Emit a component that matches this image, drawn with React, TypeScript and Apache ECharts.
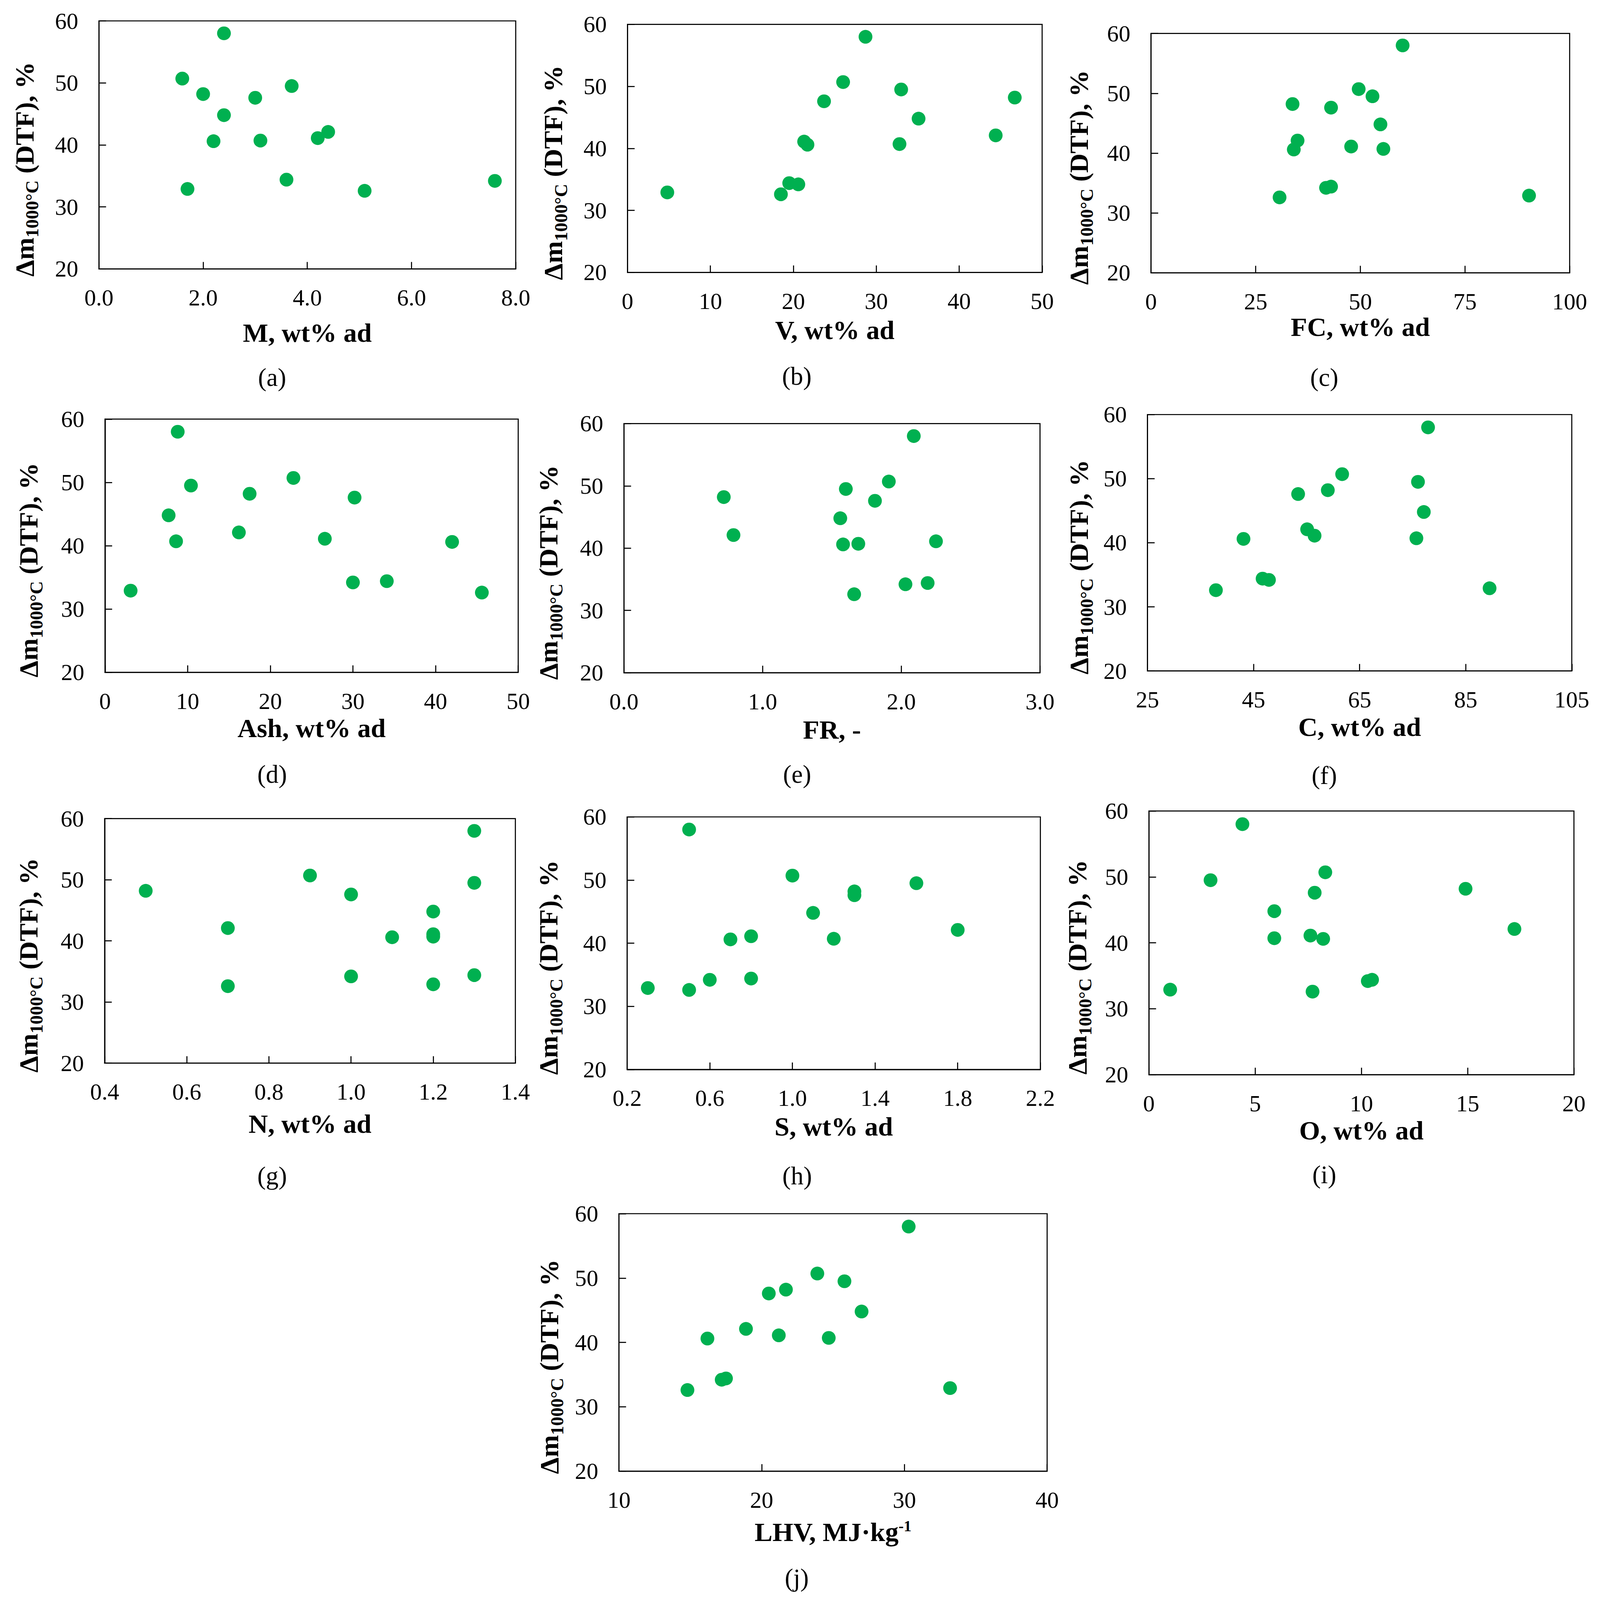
import React, { useEffect, useRef } from 'react';
import * as echarts from 'echarts';

// Δm1000°C (DTF), % — shared response for all 14 samples
const dm = [58.0, 50.7, 49.5, 48.2, 47.6, 44.8, 42.1, 41.1, 40.6, 40.7, 34.4, 34.2, 32.9, 32.6];
// Proximate analysis, wt% ad
const moisture = [2.4, 1.6, 3.7, 2.0, 3.0, 2.4, 4.4, 4.2, 2.2, 3.1, 3.6, 7.6, 1.7, 5.1];
const volatile = [28.7, 26.0, 33.0, 46.7, 23.7, 35.1, 44.4, 21.3, 21.7, 32.8, 19.5, 20.6, 4.8, 18.5];
const fixedCarbon = [60.1, 49.6, 52.9, 33.8, 43.0, 54.8, 35.0, 47.8, 34.1, 55.5, 43.0, 41.8, 90.3, 30.7];
const ash = [8.8, 22.8, 10.4, 17.5, 30.2, 7.7, 16.2, 26.6, 42.0, 8.6, 34.1, 30.0, 3.1, 45.6];
// Fuel ratio (one sample lies off the chart)
const fuelRatio: (number | null)[] = [2.09, 1.91, 1.6, 0.72, 1.81, 1.56, 0.79, 2.25, 1.58, 1.69, 2.19, 2.03, null, 1.66];
// Ultimate analysis, wt% ad
const carbon = [77.9, 61.7, 76.0, 59.0, 53.4, 77.1, 55.1, 56.5, 43.1, 75.7, 46.7, 47.9, 89.5, 37.9];
const nitrogen = [1.3, 0.9, 1.3, 0.5, 1.0, 1.2, 0.7, 1.2, 1.1, 1.2, 1.3, 1.0, 1.2, 0.7];
const sulfur = [0.5, 1.0, 1.6, 1.3, 1.3, 1.1, 1.8, 0.8, 0.7, 1.2, 0.8, 0.6, 0.3, 0.5];
const oxygen = [4.4, 8.3, 2.9, 14.9, 7.8, 5.9, 17.2, 7.6, 8.2, 5.9, 10.5, 10.3, 1.0, 7.7];
// LHV, MJ/kg
const lhv = [30.3, 23.9, 25.8, 21.7, 20.5, 27.0, 18.9, 21.2, 16.2, 24.7, 17.5, 17.2, 33.2, 14.8];

// Axis titles and ranges
const xTitles = [
  'M, wt% ad', 'V, wt% ad', 'FC, wt% ad', 'Ash, wt% ad', 'FR, -', 'C, wt% ad',
  'N, wt% ad', 'S, wt% ad', 'O, wt% ad', '{t|LHV, MJ·kg}{p|-1}',
];
const panelLetters = ['(a)', '(b)', '(c)', '(d)', '(e)', '(f)', '(g)', '(h)', '(i)', '(j)'];
const xMins = [0, 0, 0, 0, 0, 25, 0.4, 0.2, 0, 10];
const xMaxs = [8, 50, 100, 50, 3, 105, 1.4, 2.2, 20, 40];
const xSteps = [2, 10, 25, 10, 1, 20, 0.2, 0.4, 5, 10];
const xDecimals = [1, 0, 0, 0, 1, 0, 1, 1, 0, 0];
const yMin = 20;
const yMax = 60;
const yStep = 10;
const xSeries = [moisture, volatile, fixedCarbon, ash, fuelRatio, carbon, nitrogen, sulfur, oxygen, lhv];

// Layout (reference pixels): [left, top, width, height]
const PAGE_W = 4480;
const PAGE_H = 4593;
const grids = [
  [277, 60, 1167, 712],
  [1757, 70, 1161, 712],
  [3223, 96, 1172, 687],
  [294, 1203, 1157, 727],
  [1747, 1216, 1165, 715],
  [3213, 1190, 1188, 736],
  [293, 2350, 1150, 702],
  [1756, 2345, 1157, 725],
  [3217, 2328, 1190, 757],
  [1733, 3484, 1199, 739],
];
const xNameGaps = [145, 127, 108, 122, 125, 122, 135, 125, 121, 136];
const yNameGaps = [171, 171, 164, 177, 174, 154, 176, 183, 163, 158];
const letterPos = [
  [762, 1083], [2231, 1080], [3708, 1083],
  [762, 2222], [2232, 2222], [3708, 2226],
  [762, 3375], [2232, 3375], [3708, 3372],
  [2231, 4529],
];

const FONT = 'Liberation Serif';
const GREEN = '#00B050';

function buildOption(sx: number, sy: number) {
  const X = (v: number) => v * sx;
  const Y = (v: number) => v * sy;
  const sf = (sx + sy) / 2;
  const F = (v: number) => v * sf;
  const grid: any[] = [];
  const xAxis: any[] = [];
  const yAxis: any[] = [];
  const series: any[] = [];
  const graphic: any[] = [];

  for (let i = 0; i < 10; i++) {
    const [l, t, w, h] = grids[i];
    grid.push({
      left: X(l), top: Y(t), width: X(w), height: Y(h),
      show: true, borderColor: '#000', borderWidth: F(3), backgroundColor: 'transparent',
    });
    const dec = xDecimals[i];
    xAxis.push({
      type: 'value', gridIndex: i,
      min: xMins[i], max: xMaxs[i], interval: xSteps[i],
      name: xTitles[i], nameLocation: 'middle', nameGap: Y(xNameGaps[i]),
      nameTextStyle: {
        fontFamily: FONT, fontWeight: 'bold', fontSize: F(76), color: '#000',
        rich: {
          t: { fontFamily: FONT, fontWeight: 'bold', fontSize: F(76), lineHeight: F(76), color: '#000' },
          p: { fontFamily: FONT, fontWeight: 'bold', fontSize: F(44), height: F(44), verticalAlign: 'top', color: '#000' },
        },
      },
      axisLine: { show: true, onZero: false, lineStyle: { color: '#000', width: F(3) } },
      axisTick: { show: true, inside: true, length: Y(20), lineStyle: { color: '#000', width: F(3) } },
      axisLabel: {
        show: true, margin: Y(49), fontFamily: FONT, fontSize: F(66), color: '#000',
        formatter: (v: number) => v.toFixed(dec),
      },
      splitLine: { show: false },
    });
    yAxis.push({
      type: 'value', gridIndex: i,
      min: yMin, max: yMax, interval: yStep,
      name: '{t|Δm}{s|1000°C}{t| (DTF), %}',
      nameLocation: 'middle', nameRotate: 90, nameGap: X(yNameGaps[i]),
      nameTextStyle: {
        fontFamily: FONT, fontWeight: 'bold', fontSize: F(76), color: '#000',
        padding: [0, Y(140), 0, 0],
        rich: {
          t: { fontFamily: FONT, fontWeight: 'bold', fontSize: F(76), lineHeight: F(76), color: '#000' },
          s: { fontFamily: FONT, fontWeight: 'bold', fontSize: F(52), height: F(32), verticalAlign: 'bottom', color: '#000' },
        },
      },
      axisLine: { show: true, onZero: false, lineStyle: { color: '#000', width: F(3) } },
      axisTick: { show: true, inside: true, length: X(20), lineStyle: { color: '#000', width: F(3) } },
      axisLabel: { show: true, margin: X(58), fontFamily: FONT, fontSize: F(66), color: '#000' },
      splitLine: { show: false },
    });
    const xs = xSeries[i];
    const data: number[][] = [];
    for (let k = 0; k < xs.length; k++) {
      const xv = xs[k];
      if (xv !== null && xv !== undefined) data.push([xv as number, dm[k]]);
    }
    series.push({
      type: 'scatter', xAxisIndex: i, yAxisIndex: i,
      symbol: 'circle', symbolSize: F(39),
      itemStyle: { color: GREEN, opacity: 1 },
      data,
    });
    graphic.push({
      type: 'text', x: X(letterPos[i][0]), y: Y(letterPos[i][1]),
      style: {
        text: panelLetters[i], fontFamily: FONT, fontSize: F(72), fill: '#000',
        align: 'center', verticalAlign: 'middle',
      },
    });
  }

  return {
    animation: false,
    backgroundColor: '#fff',
    grid, xAxis, yAxis, series, graphic,
  };
}

export default function App() {
  const ref = useRef<HTMLDivElement>(null);
  useEffect(() => {
    if (!ref.current) return;
    const vw = window.innerWidth || PAGE_W;
    const vh = window.innerHeight || PAGE_H;
    const sx = Math.min(vw / PAGE_W, 1);
    const sy = Math.min(vh / PAGE_H, 1);
    const el = ref.current;
    el.style.width = PAGE_W * sx + 'px';
    el.style.height = PAGE_H * sy + 'px';
    const chart = echarts.init(el, null, { renderer: 'svg' });
    chart.setOption(buildOption(sx, sy) as any);
    return () => chart.dispose();
  }, []);
  return (
    <div
      ref={ref}
      style={{ position: 'absolute', left: 0, top: 0, width: PAGE_W, height: PAGE_H, background: '#fff' }}
    />
  );
}
